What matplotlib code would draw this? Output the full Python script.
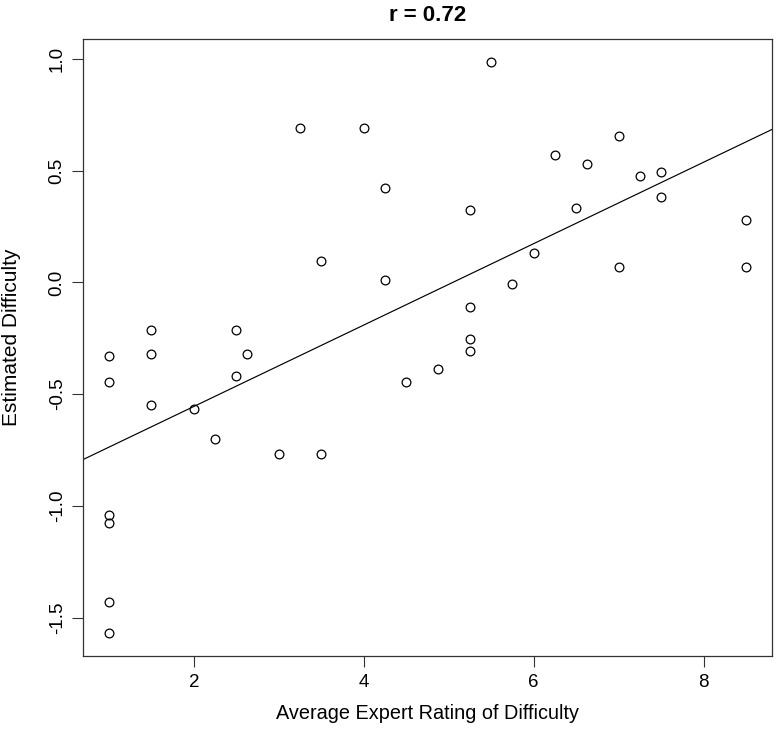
"""
Scatter of estimated difficulty vs average expert rating, with a fitted line.
Recreated in the style of an R base-graphics plot.
"""

import numpy as np
import matplotlib
matplotlib.use("Agg")
import matplotlib.pyplot as plt


# Data
expert_rating = [1.0, 1.0, 1.0, 1.0, 1.0, 1.0,
                 1.5, 1.5, 1.5, 2.0, 2.25, 2.5, 2.5, 2.625,
                 3.0, 3.25, 3.5, 3.5, 4.0, 4.25, 4.25, 4.5, 4.875,
                 5.25, 5.25, 5.25, 5.25, 5.5, 5.75, 6.0, 6.25, 6.5, 6.625,
                 7.0, 7.0, 7.25, 7.5, 7.5, 8.5, 8.5]
estimated_difficulty = [-0.330, -0.447, -1.039, -1.078, -1.431, -1.567,
                        -0.215, -0.318, -0.547, -0.565, -0.699, -0.215, -0.419, -0.322,
                        -0.766, 0.691, 0.098, -0.766, 0.691, 0.423, 0.010, -0.447, -0.389,
                        0.322, -0.110, -0.254, -0.309, 0.987, -0.005, 0.132, 0.568, 0.334, 0.530,
                        0.653, 0.071, 0.474, 0.495, 0.383, 0.280, 0.071]

# fitted line as drawn in the reference (intercept, slope)
line_intercept = -0.9195
line_slope = 0.1822

x_ticks = [2, 4, 6, 8]
y_ticks = [-1.5, -1.0, -0.5, 0.0, 0.5, 1.0]
y_tick_labels = ["-1.5", "-1.0", "-0.5", "0.0", "0.5", "1.0"]

TITLE = "r = 0.72"
X_LABEL = "Average Expert Rating of Difficulty"
Y_LABEL = "Estimated Difficulty"


# R-style 4% padding around the data range
def padded_limits(values, frac=0.04):
    lo, hi = min(values), max(values)
    pad = (hi - lo) * frac
    return lo - pad, hi + pad


def main() -> None:
    plt.rcParams["font.family"] = ["Liberation Sans", "DejaVu Sans"]
    plt.rcParams["font.size"] = 13.5

    fig = plt.figure(figsize=(7.76, 7.34), dpi=100)
    ax = fig.add_axes([83.3 / 776, (734 - 655.5) / 734, (771.7 - 83.3) / 776, (655.5 - 39) / 734])

    x = np.array(expert_rating)
    y = np.array(estimated_difficulty)

    ax.plot(x, y, linestyle="none", marker="o", markersize=6.3,
            markerfacecolor="none", markeredgecolor="black", markeredgewidth=0.9)

    xlim = padded_limits(expert_rating)
    ylim = padded_limits(estimated_difficulty)
    ax.set_xlim(xlim)
    ax.set_ylim(ylim)

    # line across the whole plot region, like abline()
    xs = np.array(xlim)
    ax.plot(xs, line_intercept + line_slope * xs, color="black", linewidth=0.85)

    ax.set_xticks(x_ticks)
    ax.set_yticks(y_ticks)
    ax.set_yticklabels(y_tick_labels, rotation=90, va="center")
    ax.tick_params(axis="both", direction="out", length=7.7, width=0.8,
                   color="#333333", labelsize=13.5)
    ax.tick_params(axis="x", pad=5.8)
    ax.tick_params(axis="y", pad=5.0)

    for spine in ax.spines.values():
        spine.set_linewidth(0.9)
        spine.set_color("#333333")

    ax.set_title(TITLE, fontweight="bold", fontsize=16, pad=13)
    ax.set_xlabel(X_LABEL, fontsize=14.3, labelpad=9.5)
    ax.set_ylabel(Y_LABEL, fontsize=15)
    ax.yaxis.set_label_coords(-0.0904, 0.516)

    fig.savefig("out.png", dpi=100, facecolor="white")
    plt.close(fig)


if __name__ == "__main__":
    main()
